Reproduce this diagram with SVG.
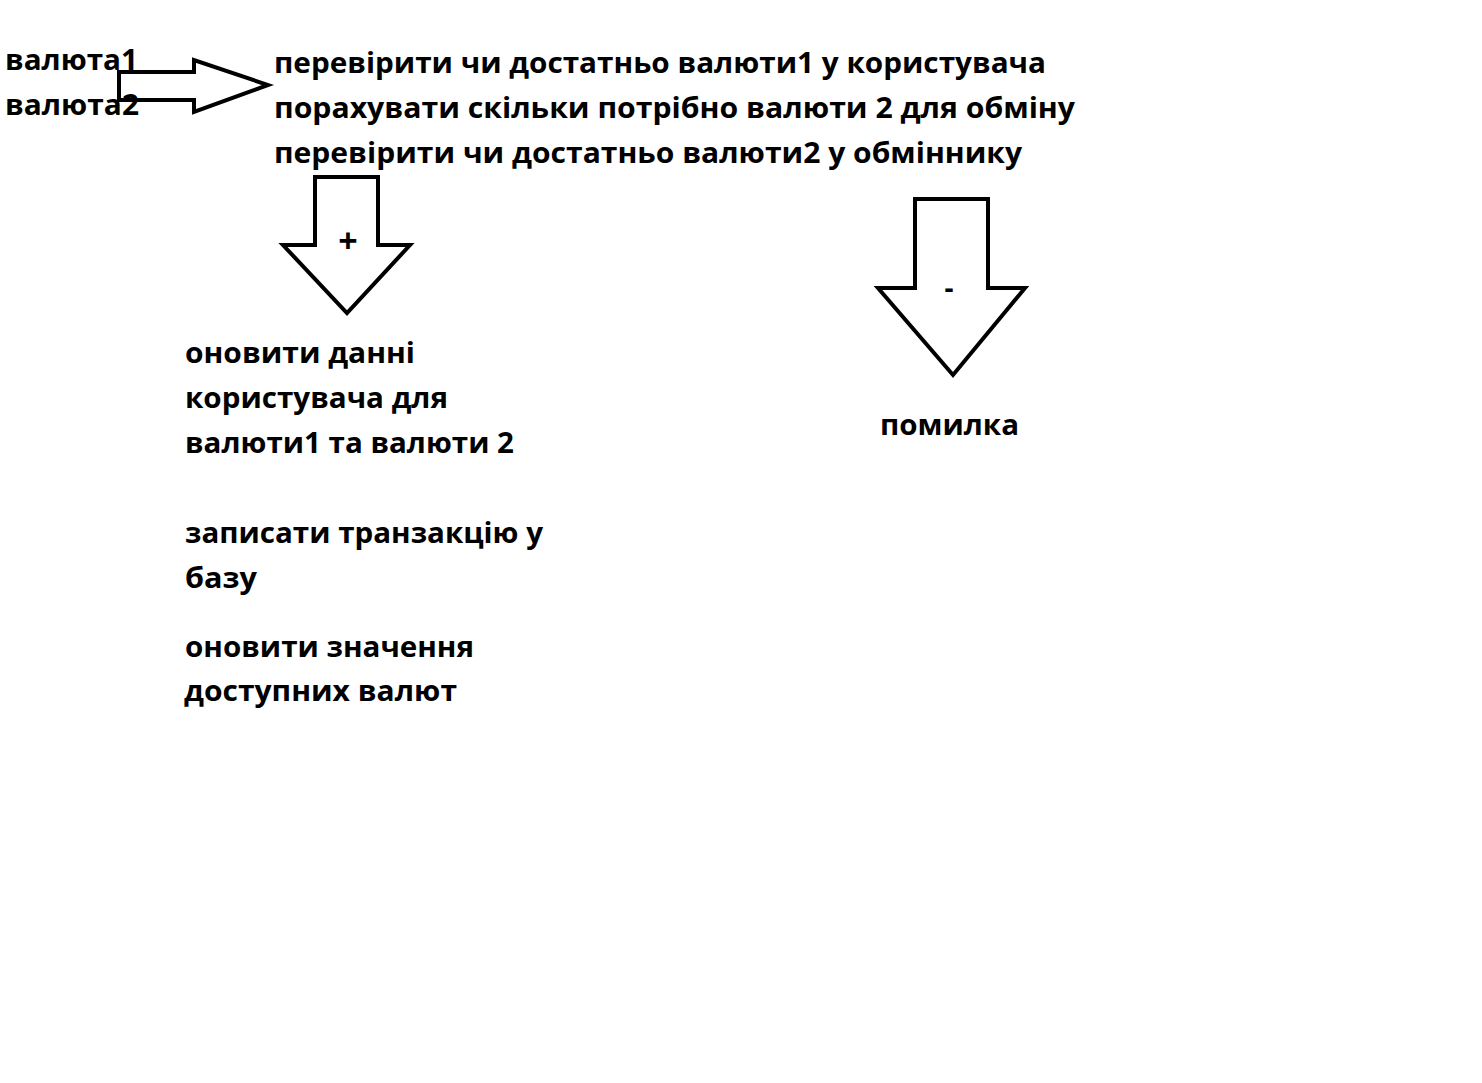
<svg xmlns="http://www.w3.org/2000/svg" width="1482" height="1083" viewBox="0 0 1482 1083">
<style>
  .t { font-family: "Open Sans", "Noto Sans", "DejaVu Sans", sans-serif; font-weight: 700; font-size: 28px; fill: #000; }
  .sign { font-family: "Open Sans", "Noto Sans", "DejaVu Sans", sans-serif; font-weight: 700; font-size: 34px; fill: #000; }
  .arrow { fill: none; stroke: #000; stroke-width: 4; stroke-linejoin: miter; }
</style>
<rect x="0" y="0" width="1482" height="1083" fill="#fff"/>
<g id="connectors">
  <polygon id="arrow-right" class="arrow" points="119,72 194,72 194,60 268,85 194,112 194,100 119,100"/>
  <polygon id="arrow-plus" class="arrow" points="315,177 378,177 378,245 410,245 347,313 283,245 315,245"/>
  <polygon id="arrow-minus" class="arrow" points="915,199 988,199 988,288 1025,288 953,375 878,288 915,288"/>
  <text class="sign" x="348" y="253" text-anchor="middle">+</text>
  <text class="t" x="949" y="298" text-anchor="middle">-</text>
</g>
<g id="node-input">
  <text class="t" x="5" y="70" textLength="133" lengthAdjust="spacingAndGlyphs">валюта1</text>
  <text class="t" x="5" y="115" textLength="134" lengthAdjust="spacingAndGlyphs">валюта2</text>
</g>
<g id="node-check">
  <text class="t" x="274" y="73" textLength="772" lengthAdjust="spacingAndGlyphs">перевірити чи достатньо валюти1 у користувача</text>
  <text class="t" x="274" y="118" textLength="801" lengthAdjust="spacingAndGlyphs">порахувати скільки потрібно валюти 2 для обміну</text>
  <text class="t" x="274" y="163" textLength="748" lengthAdjust="spacingAndGlyphs">перевірити чи достатньо валюти2 у обміннику</text>
</g>
<g id="node-success">
  <text class="t" x="185" y="363" textLength="230" lengthAdjust="spacingAndGlyphs">оновити данні</text>
  <text class="t" x="185" y="408" textLength="263" lengthAdjust="spacingAndGlyphs">користувача для</text>
  <text class="t" x="185" y="453" textLength="329" lengthAdjust="spacingAndGlyphs">валюти1 та валюти 2</text>
  <text class="t" x="185" y="543" textLength="358" lengthAdjust="spacingAndGlyphs">записати транзакцію у</text>
  <text class="t" x="185" y="588" textLength="72" lengthAdjust="spacingAndGlyphs">базу</text>
  <text class="t" x="185" y="657" textLength="289" lengthAdjust="spacingAndGlyphs">оновити значення</text>
  <text class="t" x="184" y="701" textLength="273" lengthAdjust="spacingAndGlyphs">доступних валют</text>
</g>
<g id="node-error">
  <text class="t" x="880" y="435" textLength="139" lengthAdjust="spacingAndGlyphs">помилка</text>
</g>
</svg>
